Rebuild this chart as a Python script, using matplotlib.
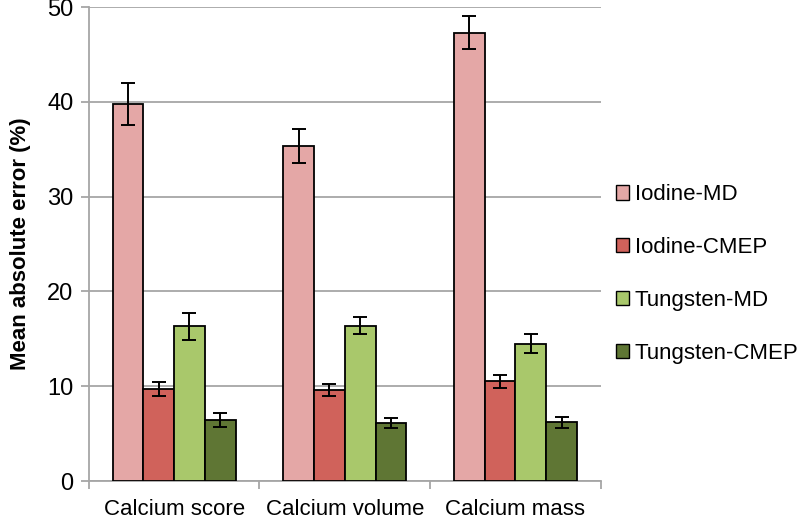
import numpy as np
import matplotlib.pyplot as plt
from matplotlib.patches import Patch

plt.rcParams['font.family'] = ['Liberation Sans', 'DejaVu Sans']

# Data
categories = ["Calcium score", "Calcium volume", "Calcium mass"]
series = ["Iodine-MD", "Iodine-CMEP", "Tungsten-MD", "Tungsten-CMEP"]
iodine_md = [39.8, 35.3, 47.3]
iodine_md_err = [2.2, 1.8, 1.7]
iodine_cmep = [9.7, 9.6, 10.5]
iodine_cmep_err = [0.75, 0.6, 0.7]
tungsten_md = [16.3, 16.4, 14.5]
tungsten_md_err = [1.4, 0.85, 1.0]
tungsten_cmep = [6.4, 6.1, 6.2]
tungsten_cmep_err = [0.75, 0.5, 0.6]

colors = ["#E4A7A6", "#D0625B", "#A9C86B", "#5F7634"]
values = [iodine_md, iodine_cmep, tungsten_md, tungsten_cmep]
errors = [iodine_md_err, iodine_cmep_err, tungsten_md_err, tungsten_cmep_err]

fig = plt.figure(figsize=(8.0, 5.19), dpi=100)
ax = fig.add_axes([0.111, 0.0732, 0.64, 0.9133])

x = np.arange(len(categories))
width = 0.18
for i, (vals, errs, c) in enumerate(zip(values, errors, colors)):
    pos = x + (i - 1.5) * width
    ax.bar(pos, vals, width, color=c, edgecolor="black", linewidth=1.3, zorder=3)
    ax.errorbar(pos, vals, yerr=errs, fmt="none", ecolor="black",
                elinewidth=1.4, capsize=5, capthick=1.4, zorder=4)

ax.set_xlim(-0.5, len(categories) - 0.5)
ax.set_ylim(0, 50)
ax.set_yticks(range(0, 51, 10))
ax.yaxis.grid(True, color="#A6A6A6", linewidth=1.3, zorder=0)
ax.set_axisbelow(True)

ax.set_xticks(x)
ax.set_xticklabels(categories, fontsize=16)
ax.tick_params(axis="x", length=0, pad=13)
ax.set_xticks(np.arange(-0.5, len(categories)), minor=True)
ax.tick_params(axis="x", which="minor", length=6, color="#A6A6A6", width=1.3)
ax.tick_params(axis="y", labelsize=17, length=6, color="#A6A6A6", width=1.3, pad=5)

for side in ["top", "right"]:
    ax.spines[side].set_visible(False)
for side in ["left", "bottom"]:
    ax.spines[side].set_color("#A6A6A6")
    ax.spines[side].set_linewidth(1.3)

ax.set_ylabel("Mean absolute error (%)", fontsize=16, fontweight="bold", labelpad=12)

handles = [Patch(facecolor=c, edgecolor="black", linewidth=1.0) for c in colors]
fig.legend(handles, series, loc="center left", bbox_to_anchor=(0.77, 0.472),
           frameon=False, fontsize=16, handlelength=0.6, handleheight=0.6,
           handletextpad=0.25, labelspacing=1.43, borderpad=0, borderaxespad=0)

fig.savefig("out.png", dpi=100)
